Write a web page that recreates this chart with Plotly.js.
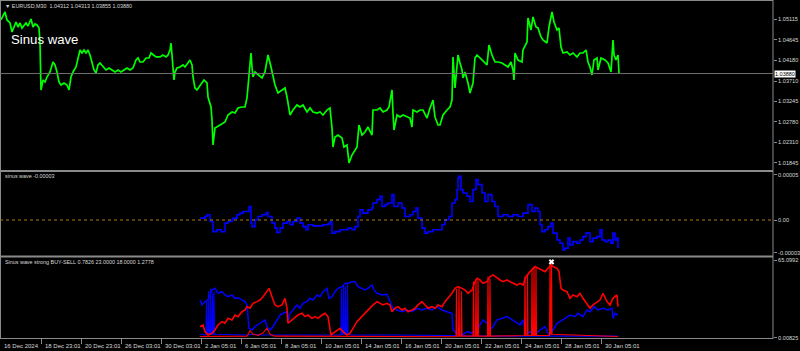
<!DOCTYPE html>
<html><head><meta charset="utf-8">
<script src="https://cdn.plot.ly/plotly-3.0.1.min.js"></script>
<style>html,body{margin:0;padding:0;background:#000;}#chart{width:800px;height:351px;}</style>
</head><body><div id="chart"></div>
<script>
// ---------- DATA ----------
const symbolTitle = "\u25BC EURUSD,M30  1.04312 1.04313 1.03855 1.03880";
const chartLabel = "Sinus wave";
const sub1Title = "sinus wave -0.00003";
const sub2Title = "Sinus wave strong BUY-SELL 0.7826 23.0000 18.0000 1.2778";
const lastPrice = 1.03880;

const tickBars = [0,41,81,121,161,201,241,281,321,361,401,441,481,521,561,601];
const tickLabels = ["16 Dec 2024","18 Dec 23:01","20 Dec 23:01","26 Dec 03:01","30 Dec 03:01","2 Jan 05:01","6 Jan 05:01","8 Jan 05:01","10 Jan 05:01","14 Jan 05:01","16 Jan 05:01","20 Jan 05:01","22 Jan 05:01","24 Jan 05:01","28 Jan 05:01","30 Jan 05:01"];

const priceTicks = [1.05115,1.04645,1.04180,1.03710,1.03245,1.02780,1.02310,1.01845];

const priceBar = [1,3,5,7,10,12,14,16,18,20,22,24,26,28,30,31,33,35,37,39,40,41,43,45,47,50,53,55,57,59,61,64,67,69,71,73,76,78,80,82,84,86,88,90,92,94,96,98,100,103,106,109,112,115,118,121,124,127,130,133,136,138,140,143,146,149,151,153,156,158,160,163,166,168,170,171,173,174,175,177,180,183,185,188,190,192,193,195,197,199,202,204,207,208,211,212,213,215,220,225,228,232,235,238,242,245,247,249,251,252,253,255,258,262,265,268,271,273,275,278,282,285,287,290,293,297,300,303,307,310,313,317,320,323,327,330,332,333,335,338,342,344,347,349,352,355,357,359,362,365,368,372,373,377,380,383,387,389,392,393,394,397,400,403,407,410,412,413,417,420,423,427,430,433,435,438,440,443,447,450,452,453,455,457,458,460,462,463,465,468,470,473,475,477,480,483,487,489,492,495,498,502,505,508,511,513,514,515,518,522,523,527,528,531,533,536,538,541,543,547,549,552,554,557,559,561,563,567,570,573,577,580,583,586,588,590,592,594,597,598,601,605,608,611,613,614,616,618,619];
const price = [1.05099,1.05190,1.05281,1.05099,1.05031,1.04826,1.04939,1.05053,1.04939,1.05031,1.04917,1.04985,1.05031,1.04962,1.05053,1.05122,1.04939,1.05008,1.04985,1.04917,1.04575,1.03506,1.03733,1.03688,1.03801,1.03915,1.04143,1.04075,1.03915,1.03688,1.03619,1.03665,1.03619,1.03506,1.03801,1.03915,1.04029,1.04257,1.04416,1.04348,1.04416,1.04348,1.04416,1.04302,1.04120,1.03961,1.03893,1.04075,1.04120,1.04029,1.03961,1.04006,1.03961,1.03915,1.03961,1.03915,1.03961,1.04006,1.03961,1.04006,1.04188,1.04234,1.04143,1.04143,1.04234,1.04234,1.04348,1.04302,1.04257,1.04257,1.04257,1.04302,1.04257,1.04302,1.04416,1.04575,1.03961,1.03733,1.03915,1.04006,1.04029,1.04075,1.04029,1.04120,1.04188,1.04075,1.03801,1.03551,1.03506,1.03574,1.03688,1.03733,1.03665,1.03346,1.03119,1.02823,1.02254,1.02641,1.02709,1.02777,1.02937,1.03005,1.02982,1.03096,1.03119,1.03119,1.03324,1.03801,1.04348,1.04029,1.03801,1.03915,1.03847,1.03779,1.03915,1.04302,1.04029,1.03779,1.03619,1.03437,1.03506,1.03551,1.03346,1.02937,1.03050,1.03164,1.03119,1.03164,1.03005,1.03096,1.03005,1.02982,1.03005,1.02937,1.03050,1.03096,1.02641,1.02208,1.02436,1.02481,1.02413,1.02208,1.02254,1.01844,1.02026,1.02140,1.02208,1.02709,1.02481,1.02550,1.02663,1.02481,1.03050,1.03050,1.03096,1.03005,1.03050,1.03119,1.03506,1.02982,1.02595,1.02937,1.02891,1.02937,1.02891,1.02868,1.02663,1.03050,1.03005,1.03050,1.03050,1.02868,1.03096,1.03278,1.02891,1.02709,1.02709,1.02937,1.03050,1.03119,1.03278,1.04257,1.03551,1.03961,1.04302,1.04120,1.03961,1.03779,1.03915,1.03665,1.03437,1.03665,1.04234,1.04302,1.04234,1.04188,1.04075,1.04530,1.04302,1.04143,1.04143,1.04120,1.04075,1.04029,1.04143,1.03961,1.03733,1.04348,1.04188,1.04143,1.04416,1.04598,1.05144,1.04871,1.05167,1.04939,1.04917,1.04712,1.04644,1.04575,1.04939,1.05281,1.05053,1.04871,1.04917,1.04484,1.04348,1.04370,1.04302,1.04348,1.04257,1.04348,1.04348,1.04416,1.04143,1.04029,1.03847,1.04188,1.04234,1.03961,1.04234,1.04188,1.04120,1.03915,1.04644,1.04302,1.04188,1.04302,1.03880];

// sinus wave oscillator, values in millionths (x 1e-6)
const sinBar = [200,205,207,210,213,217,221,225,228,232,233,237,240,243,247,249,251,252,255,258,262,266,268,272,275,277,280,283,287,290,293,297,300,303,306,308,313,318,323,328,330,332,335,340,345,348,352,355,358,360,363,368,372,373,377,380,382,385,388,392,394,398,402,405,410,413,416,418,422,425,428,433,438,442,445,449,452,455,457,458,459,461,463,467,470,473,476,478,482,485,488,492,495,498,503,508,513,518,523,528,532,535,538,540,542,545,548,551,553,557,560,563,565,568,570,573,577,580,583,586,590,593,597,600,602,605,608,611,613,615,617,618];
const sinusWaveMicro = [1.8,3.4,5.0,-1.4,-11.1,-9.4,-11.1,-3.0,-1.4,0.2,1.8,5.0,6.6,8.2,8.2,13.0,-3.0,-6.3,0.2,3.4,5.0,7.2,3.4,-3.0,-7.8,-12.0,-7.8,-3.0,-1.4,-4.6,-1.4,1.8,-3.0,-6.3,-9.4,-4.6,-5.6,-5.6,-4.6,-3.7,-1.4,-12.6,-11.1,-9.4,-9.4,-7.8,-9.4,-6.3,3.4,9.8,6.6,9.8,11.5,16.3,19.5,22.7,13.0,14.7,16.3,24.3,13.0,16.3,11.5,3.4,5.0,8.2,11.5,1.8,-7.8,-12.6,-11.1,-9.4,-9.4,-4.6,0.2,3.4,16.3,19.5,29.1,40.4,41.9,29.1,25.9,22.7,17.8,29.1,38.8,33.9,25.9,17.8,24.3,17.8,13.0,3.4,5.0,3.4,5.0,3.4,6.6,14.7,8.2,11.5,8.2,-4.6,-11.1,-9.4,-6.3,-3.0,-12.6,-19.1,-22.3,-28.7,-27.1,-17.4,-23.9,-20.7,-22.3,-19.1,-15.9,-12.6,-20.7,-17.4,-15.9,-9.4,-19.1,-20.7,-19.1,-22.3,-12.6,-19.1,-17.4,-27.1];
const sub1Max = 0.000046, sub1Min = -0.000034;
const sub1TickVals = [0.0000435, 0, -0.0000315];
const sub1TickText = ["0.00005","0.00","-0.00003"];

// strong BUY-SELL
const buyBar = [200,202,205,208,212,215,218,222,225,228,232,235,238,242,245,247,249,252,255,260,265,267,270,273,277,280,283,287,288,290,293,297,300,303,307,310,313,317,320,323,327,329,332,335,338,342,345,348,352,355,358,362,365,368,372,374,377,382,387,390,393,397,402,407,412,417,422,427,432,437,442,447,452,453,457,462,467,472,477,480,483,487,490,493,497,502,507,510,515,520,523,526,530,535,540,545,549,553,557,560,565,570,575,578,583,587,590,594,598,603,608,612,613,615,618];
const buyStrong = [30.9,26.9,29.6,30.9,39.1,40.4,36.4,37.7,35.0,33.6,35.0,32.3,32.8,30.9,29.6,26.9,7.9,6.5,9.2,12.0,14.7,9.2,6.5,9.2,14.7,18.7,20.1,21.4,13.3,20.1,22.8,26.9,24.2,28.2,29.6,32.3,30.9,35.0,33.6,37.7,40.4,32.3,33.6,37.7,40.4,41.8,44.5,44.5,45.8,45.8,41.8,40.4,39.1,40.4,43.1,39.1,36.4,35.0,35.6,29.6,24.2,22.8,21.4,22.8,21.4,24.2,22.8,24.2,22.8,25.5,22.8,21.4,20.1,6.5,3.8,2.4,5.2,3.8,6.5,10.6,14.7,12.0,6.5,9.2,14.7,16.0,17.4,16.0,13.3,10.6,14.7,2.4,5.2,2.4,6.5,9.2,2.4,6.5,12.0,13.3,16.0,18.7,17.4,20.1,17.4,22.8,21.4,25.5,22.8,24.2,22.8,24.2,16.0,20.1,18.7];
const sellBar = [200,203,205,208,212,215,218,222,225,228,232,235,238,242,245,247,250,253,257,260,263,267,269,272,275,278,282,285,287,288,292,295,298,302,305,308,312,315,318,322,325,328,331,333,337,340,343,347,350,353,357,360,363,367,370,373,377,380,383,387,390,392,395,398,402,405,408,412,415,418,422,425,428,432,435,438,442,445,448,452,455,458,462,465,468,472,475,477,480,483,487,490,493,497,500,503,507,510,513,517,520,523,526,530,535,538,542,545,548,551,553,557,559,561,563,567,570,573,577,580,583,587,590,593,597,600,603,607,610,613,617,618];
const sellStrong = [9.2,10.6,5.2,2.4,3.8,6.5,10.6,13.3,12.0,16.0,14.7,18.7,17.4,21.4,22.8,25.5,24.2,28.2,29.6,30.9,33.6,37.7,40.4,33.6,26.9,25.5,26.9,32.3,24.2,12.0,14.7,16.0,18.7,20.1,17.4,18.7,16.0,17.4,16.0,18.7,20.1,17.4,2.4,3.8,6.5,7.9,5.2,2.4,3.8,7.9,13.3,16.0,18.7,21.4,24.2,26.9,29.6,28.2,26.9,28.2,26.9,21.4,24.2,25.5,22.8,24.2,21.4,22.8,24.2,26.9,29.6,26.9,24.2,25.5,24.2,26.9,25.5,29.6,32.3,36.4,40.4,41.8,40.4,39.1,36.4,39.1,45.8,48.6,47.2,44.5,45.8,49.9,51.3,48.6,47.2,45.8,47.2,45.8,44.5,43.1,44.5,43.1,49.9,54.0,58.1,56.7,55.4,54.0,56.7,59.4,58.1,56.7,54.0,40.4,39.1,37.7,32.3,35.0,33.6,36.4,32.3,28.2,24.2,26.9,29.6,30.9,36.4,29.6,26.9,32.3,35.0,25.5];
const buyLowBar = [200,206,206.5,207,208,208.5,209,210,210.5,211,212,212.5,213,213.5,214,214.5,248,250,262,270,330,341,341.5,342,343,343.5,344,345,345.5,346,347,347.5,348,350,400,450,500,618];
const buyLow = [3,2.5,30,3,3,38,3,3,40,3,3,36,3,3,38,3,2.5,3,2.5,2.5,2.5,2.5,40,3,3,44,3,3,42,3,3,44,3,2.5,2.5,2,1.5,1.5];
const sellLowBar = [200,247,250,253,258,263,267,270,275,330,456,456.5,457,458.5,459,459.5,461,461.5,462,473,473.5,474,475.5,476,476.5,477.5,478,478.5,487.5,488,488.5,489.5,490,490.5,524.5,525,525.5,527,527.5,528,531.5,532,532.5,533.5,534,534.5,535.5,536,536.5,549.5,550,550.5,551,551.5,552,618];
const sellLow = [1.2,1.5,6,3,2,4,8,3,1.5,1.2,1,40,1.5,1.5,42,1.5,1.5,38,1.5,1.5,46,1.5,1.5,48,1.5,1.5,47,1.5,1.5,50,1.5,1.5,48,1.5,2,50,2,2,52,2,2,55,2,2,57,2,2,57,2,2,60,3,3,62,3,1.2];
const peakBar = [551.5], peakVal = [62];
const sub2Max = 65.0992, sub2Min = 0.00825;
const sub2TickVals = [63.4, 0.3];
const sub2TickText = ["65.0992","0.00825"];

// ---------- LAYOUT HELPERS ----------
const H = 351, PLOTW = 773;
const py = y => 1 - y / H;
const px = x => x / PLOTW;
const GRAY = '#8a8a8a', TXT = '#d8d8d8', FONT = 'Liberation Sans, Arial, sans-serif';

const traces = [
  {x: priceBar, y: price, type:'scatter', mode:'lines', line:{color:'#00ff00', width:1.7}, xaxis:'x', yaxis:'y'},
  {x: sinBar, y: sinusWaveMicro.map(v => v * 1e-6), type:'scatter', mode:'lines', line:{color:'#0000ff', width:1.6, shape:'hv'}, xaxis:'x', yaxis:'y2'},
  {x: buyBar, y: buyStrong, type:'scatter', mode:'lines', line:{color:'#0000ff', width:1.5}, xaxis:'x', yaxis:'y3'},
  {x: buyLowBar, y: buyLow, type:'scatter', mode:'lines', line:{color:'#0000ff', width:1.1}, xaxis:'x', yaxis:'y3'},
  {x: sellBar, y: sellStrong, type:'scatter', mode:'lines', line:{color:'#ff0000', width:1.6}, xaxis:'x', yaxis:'y3'},
  {x: sellLowBar, y: sellLow, type:'scatter', mode:'lines', line:{color:'#ff0000', width:1.1}, xaxis:'x', yaxis:'y3'},
  {x: peakBar, y: peakVal, type:'scatter', mode:'markers', marker:{symbol:'x', size:5, color:'#ffffff', line:{width:0}}, xaxis:'x', yaxis:'y3'}
];

const annotations = tickLabels.map((t, i) => ({
  text: t, x: tickBars[i], xref:'x', y: py(345.5), yref:'paper', xanchor:'left', yanchor:'middle',
  xshift: 2, showarrow:false, font:{family:FONT, size:6, color:TXT}
}));
annotations.push(
  {text: symbolTitle, x: px(3), y: py(6.5), xref:'paper', yref:'paper', xanchor:'left', yanchor:'middle', showarrow:false, font:{family:FONT, size:5.4, color:TXT}},
  {text: chartLabel, x: px(9), y: py(39), xref:'paper', yref:'paper', xanchor:'left', yanchor:'middle', showarrow:false, font:{family:FONT, size:13.2, color:'#ffffff'}},
  {text: sub1Title, x: px(3), y: py(176.5), xref:'paper', yref:'paper', xanchor:'left', yanchor:'middle', showarrow:false, font:{family:FONT, size:5.4, color:TXT}},
  {text: sub2Title, x: px(3), y: py(262), xref:'paper', yref:'paper', xanchor:'left', yanchor:'middle', showarrow:false, font:{family:FONT, size:5.4, color:TXT}},
  {text: lastPrice.toFixed(5), x: px(774), y: lastPrice, xref:'paper', yref:'y', xanchor:'left', yanchor:'middle', showarrow:false, bgcolor:'#ffffff', borderpad:0, font:{family:FONT, size:5.5, color:'#000000'}}
);

const shapes = [
  {type:'line', xref:'paper', yref:'paper', x0:0, x1:1, y0:py(0.5), y1:py(0.5), line:{color:GRAY, width:1}},
  {type:'line', xref:'paper', yref:'paper', x0:px(0.5), x1:px(0.5), y0:py(0), y1:py(339), line:{color:GRAY, width:1}},
  {type:'line', xref:'paper', yref:'paper', x0:1, x1:1, y0:py(0), y1:py(339), line:{color:GRAY, width:1}},
  {type:'line', xref:'paper', yref:'paper', x0:0, x1:1, y0:py(171), y1:py(171), line:{color:GRAY, width:2}},
  {type:'line', xref:'paper', yref:'paper', x0:0, x1:1, y0:py(256.5), y1:py(256.5), line:{color:GRAY, width:2}},
  {type:'line', xref:'paper', yref:'paper', x0:0, x1:1, y0:py(338.5), y1:py(338.5), line:{color:GRAY, width:1}},
  {type:'line', xref:'paper', yref:'y', x0:0, x1:1, y0:lastPrice, y1:lastPrice, line:{color:'#707070', width:1}},
  {type:'line', xref:'paper', yref:'y2', x0:0, x1:1, y0:0, y1:0, line:{color:'#b07a10', width:1, dash:'dot'}}
];

const yCommon = {side:'right', showgrid:false, zeroline:false, showline:false, ticks:'outside', ticklen:3, tickcolor:GRAY, tickwidth:1, tickfont:{family:FONT, size:5.6, color:TXT}, fixedrange:true};

const layout = {
  width:800, height:351,
  margin:{l:0, r:27, t:0, b:0, pad:0},
  paper_bgcolor:'#000000', plot_bgcolor:'#000000',
  showlegend:false, hovermode:false,
  xaxis:{range:[0, PLOTW], anchor:'y3', showgrid:false, zeroline:false, showline:false, ticks:'outside', ticklen:5, tickcolor:GRAY, tickvals: tickBars.slice(1), showticklabels:false, fixedrange:true},
  yaxis: Object.assign({}, yCommon, {domain:[py(170), py(2)], range:[1.01685, 1.05508], tickvals: priceTicks, ticktext: priceTicks.map(v => v.toFixed(5))}),
  yaxis2: Object.assign({}, yCommon, {domain:[py(255.5), py(172)], range:[sub1Min, sub1Max], tickvals: sub1TickVals, ticktext: sub1TickText}),
  yaxis3: Object.assign({}, yCommon, {domain:[py(338), py(258)], range:[0, sub2Max], tickvals: sub2TickVals, ticktext: sub2TickText}),
  annotations, shapes
};

Plotly.newPlot('chart', traces, layout, {staticPlot:true, displayModeBar:false});
</script></body></html>
